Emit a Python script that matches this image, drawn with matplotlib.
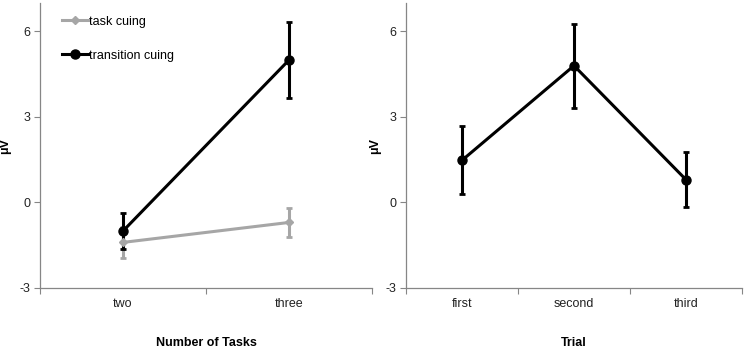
import matplotlib
matplotlib.use("Agg")
import matplotlib.pyplot as plt

plt.rcParams['font.family'] = ['Liberation Sans', 'DejaVu Sans']

# left panel: number of tasks
tasks = ["two", "three"]
task_cuing = [-1.4, -0.7]
task_cuing_err = [0.55, 0.5]
transition_cuing = [-1.0, 5.0]
transition_cuing_err = [0.62, 1.33]

# right panel: trial
trials = ["first", "second", "third"]
trial_vals = [1.48, 4.8, 0.8]
trial_err = [1.19, 1.47, 0.97]

yticks = [-3, 0, 3, 6]
gray = "#a6a6a6"
axis_col = "#868686"
fs = 9

fig = plt.figure(figsize=(7.44, 3.51), dpi=100)
ax1 = fig.add_axes([40/744, 1-288/351, 332/744, 285/351])
ax2 = fig.add_axes([406/744, 1-288/351, 336/744, 285/351])


def style(ax, cats, xlabel, ylab_x):
    n = len(cats)
    ax.set_xlim(0, n)
    ax.set_ylim(-3, 7)
    ax.set_yticks(yticks)
    ax.set_yticklabels([str(t) for t in yticks], fontsize=fs, color="#222222")
    ax.set_xticks(range(n + 1))
    ax.set_xticklabels([])
    ax.set_xticks([i + 0.5 for i in range(n)], minor=True)
    ax.set_xticklabels(cats, minor=True, fontsize=fs, color="#222222")
    ax.tick_params(axis="x", which="major", direction="out", length=4, color=axis_col)
    ax.tick_params(axis="x", which="minor", length=0, pad=7)
    ax.tick_params(axis="y", direction="out", length=4, color=axis_col, pad=3)
    for s in ["top", "right"]:
        ax.spines[s].set_visible(False)
    for s in ["left", "bottom"]:
        ax.spines[s].set_color(axis_col)
        ax.spines[s].set_linewidth(0.9)
    ax.set_ylabel("μV", fontsize=fs, fontweight="bold", va="center")
    ax.yaxis.set_label_coords(ylab_x, 0.5)
    ax.set_xlabel(xlabel, fontsize=fs, fontweight="bold", va="center")
    ax.xaxis.set_label_coords(0.5, -0.193)


x1 = [i + 0.5 for i in range(len(tasks))]
ax1.errorbar(x1, task_cuing, yerr=task_cuing_err, color=gray, lw=2.2,
             marker="D", ms=4.5, capsize=2, capthick=2, elinewidth=2.2,
             label="task cuing")
ax1.errorbar(x1, transition_cuing, yerr=transition_cuing_err, color="black", lw=2.2,
             marker="o", ms=6.5, capsize=2, capthick=2, elinewidth=2.2,
             label="transition cuing")
style(ax1, tasks, "Number of Tasks", -0.105)
handles, labels = ax1.get_legend_handles_labels()
handles = [h[0] for h in handles]
ax1.legend(handles, labels, loc="upper left", bbox_to_anchor=(0.066, 0.955),
           frameon=False, fontsize=fs, handlelength=2.1, handletextpad=0.05,
           labelspacing=1.75, borderaxespad=0, borderpad=0)

x2 = [i + 0.5 for i in range(len(trials))]
ax2.errorbar(x2, trial_vals, yerr=trial_err, color="black", lw=2.2,
             marker="o", ms=6.5, capsize=2, capthick=2, elinewidth=2.2)
style(ax2, trials, "Trial", -0.092)

fig.savefig("out.png", dpi=100)
